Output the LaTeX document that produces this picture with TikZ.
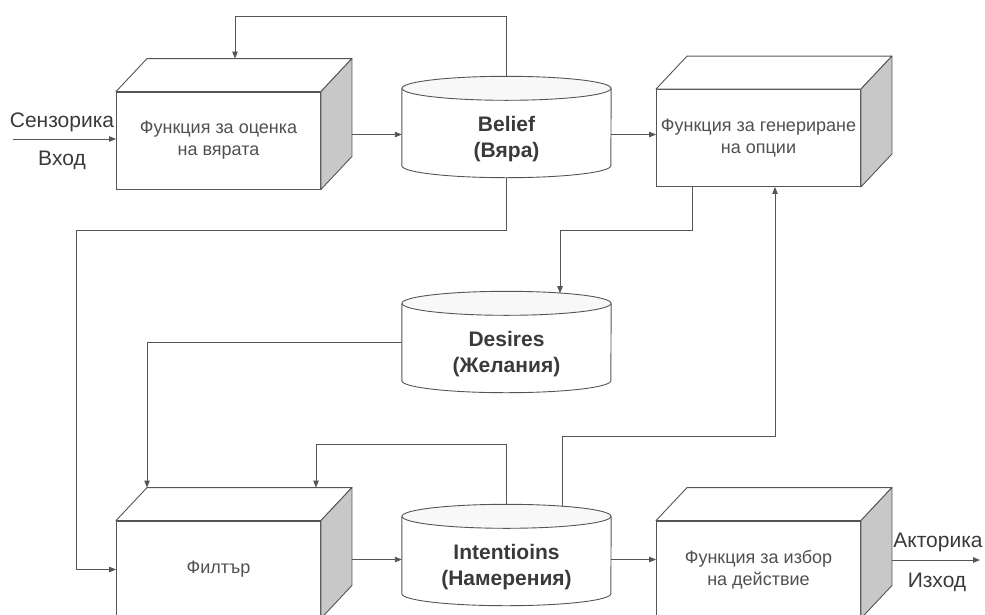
\documentclass[tikz,border=0pt]{standalone}
\usepackage{fontspec}
\setmainfont{Liberation Sans}
\usetikzlibrary{arrows.meta,calc}
\definecolor{linec}{HTML}{555555}
\definecolor{sidegray}{HTML}{C8C8C8}
\definecolor{txt}{HTML}{3A3A3A}
\definecolor{boxtxt}{HTML}{505050}
\definecolor{topfill}{HTML}{F8F8F8}
\newcommand{\drawcyl}[1]{%
  \draw[line] ($(#1.north west)+(0,-12)$) -- ($(#1.south west)+(0,-12)$)
    arc[start angle=180,end angle=0,x radius=104.5,y radius=12] -- ($(#1.north east)+(0,-12)$);
  \draw[line,fill=topfill] ($(#1.north)+(0,-12)$) ellipse[x radius=104.5,y radius=12];
}
\newcommand{\drawdepth}[1]{%
  \draw[line,fill=white,line join=round] (#1.north west) -- ++(31,-33) -- ($(#1.north east)+(31,-33)$) -- (#1.north east) -- cycle;
  \draw[line,fill=sidegray,line join=round] (#1.north east) -- ++(31,-33) -- ($(#1.south east)+(31,-33)$) -- (#1.south east) -- cycle;
}
\begin{document}
\begin{tikzpicture}[x=1pt,y=-1pt,
  line/.style={draw=linec,line width=0.9pt},
  arr/.style={line,-{Triangle[length=7pt,width=5.5pt]}},
  fbox/.style={draw=linec,line width=0.9pt,fill=white,minimum width=204pt,minimum height=97pt,
    inner sep=0pt,align=center,font=\fontsize{18}{22}\selectfont,text=boxtxt},
  cyl/.style={minimum width=209pt,minimum height=77pt,inner sep=0pt,align=center,
    font=\bfseries\fontsize{21}{26}\selectfont,text=txt},
  lbl/.style={font=\fontsize{21}{24}\selectfont,text=txt,inner sep=0pt}]
\useasboundingbox (0,0) rectangle (985,614);
\clip (0,0) rectangle (985,614);

% boxes
\node[fbox] (box1) at (218.5,140.5) {Функция за оценка\\на вярата};
\drawdepth{box1}
\node[fbox] (box2) at (758.5,138) {Функция за генериране\\на опции};
\drawdepth{box2}
\node[fbox] (filter) at (218.5,569.5) {Филтър};
\drawdepth{filter}
\node[fbox] (box3) at (758.5,569.5) {Функция за избор\\на действие};
\drawdepth{box3}

% cylinders
\node[cyl] (belief) at (506.5,139) {Belief\\(Вяра)};
\drawcyl{belief}
\node[cyl] (desires) at (506.5,354) {Desires\\(Желания)};
\drawcyl{desires}
\node[cyl] (intent) at (506.5,567) {Intentioins\\(Намерения)};
\drawcyl{intent}

% helper coordinates
\coordinate (in) at (13,139);
\coordinate (out) at (980,560);
\coordinate (b1o) at ($(box1.east)+(31,-6)$);
\coordinate (f1) at ($(filter.east)+(31,-10)$);
\coordinate (b3o) at ($(box3.east)+(31,-9.5)$);
\coordinate (c1) at (76,230);
\coordinate (dtop) at (560,293.2);
\coordinate (i2) at (562,506.8);
\coordinate (c2) at (775,436);

% connectors
\draw[arr] (in) -- (in -| box1.west);
\draw[arr] (b1o) -- (b1o -| belief.west);
\draw[arr] (b1o -| belief.east) -- (b1o -| box2.west);
\draw[arr] ($(belief.north)+(0,-24)$) -- ++(0,-60) -| ($(box1.north)+(16.5,-33)$);
\draw[arr] (belief.south) |- (c1) |- (filter.west);
\draw[arr] ($(box2.south)+(-66.5,0)$) |- (dtop |- c1) -- (dtop);
\draw[arr] ($(desires.west)+(0,-12)$) -| ($(filter.north west)+(31,-33)$);
\draw[arr] (f1) -- (f1 -| intent.west);
\draw[arr] ($(intent.north)+(0,-24)$) -- ++(0,-60) -| ($(filter.north)+(97.5,-33)$);
\draw[arr] (i2) |- (c2) -- (c2 |- box2.south);
\draw[arr] (f1 -| intent.east) -- (f1 -| box3.west);
\draw[arr] (b3o) -- (out);

% labels
\node[lbl] (sens) at (62,122) {Сензорика};
\node[lbl] (vhod) at (62,160) {Вход};
\node[lbl] (akt) at (938,542) {Акторика};
\node[lbl] (izh) at (937,582) {Изход};
\end{tikzpicture}
\end{document}
